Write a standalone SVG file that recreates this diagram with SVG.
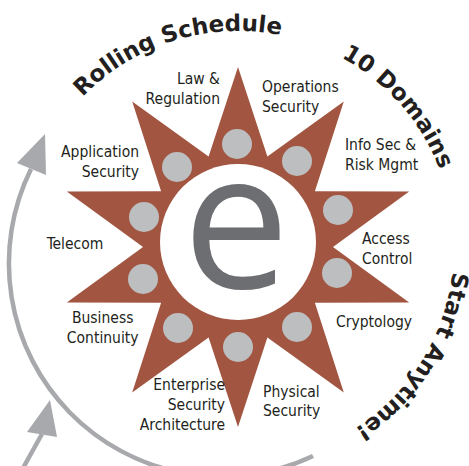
<svg xmlns="http://www.w3.org/2000/svg" width="469" height="466" viewBox="0 0 469 466">
<defs>
<style>
.lbl{font-family:"DejaVu Sans Condensed","DejaVu Sans",sans-serif;font-stretch:condensed;font-size:15.5px;fill:#231f20}
.end{text-anchor:end}
.mid{text-anchor:middle}
.dot{fill:#bcbec0}
.ttl{font-family:"DejaVu Sans",Verdana,sans-serif;font-weight:bold;font-size:23px;fill:#231f20;text-anchor:middle}
.arc{fill:none;stroke:#a7a9ac;stroke-width:4.5}
.head{fill:#a7a9ac}
</style>
<path id="ring" d="M 22,247 A 216,216 0 1,1 454,247 A 216,216 0 1,1 22,247"/>
</defs>
<rect width="469" height="466" fill="#ffffff"/>
<g id="connectors">
<path class="arc" d="M 313,456 A 213,213 0 0,1 31,169"/>
<polygon class="head" points="45,134 17,163 46,175"/>
<path class="arc" d="M 22,470 Q 33,450 42,434"/>
<polygon class="head" points="50,400 27,432 57,437"/>
</g>
<g id="hub">
<polygon fill="#a25641" points="238,67 267.4,156.6 343.8,101.4 314.9,191.2 409.2,191.4 333,247 409.2,302.6 314.9,302.8 343.8,392.6 267.4,337.4 238,427 208.6,337.4 132.2,392.6 161.1,302.8 66.8,302.6 143,247 66.8,191.4 161.1,191.2 132.2,101.4 208.6,156.6"/>
<circle cx="238" cy="242" r="78" fill="#ffffff"/>
<text x="236" y="288" font-family="Open Sans, sans-serif" font-size="190" fill="#6d6e71" text-anchor="middle">e</text>
</g>
<g id="titles">
<text class="ttl"><textPath href="#ring" startOffset="274">Rolling Schedule</textPath></text>
<text class="ttl"><textPath href="#ring" startOffset="523">10 Domains</textPath></text>
<text class="ttl"><textPath href="#ring" startOffset="799">Start Anytime!</textPath></text>
</g>
<g id="law"><circle class="dot" cx="237" cy="144" r="15"/><text class="lbl end"><tspan x="220" y="84">Law &amp;</tspan><tspan x="220" y="104">Regulation</tspan></text></g>
<g id="operations"><circle class="dot" cx="297" cy="161" r="15"/><text class="lbl"><tspan x="262" y="91.5">Operations</tspan><tspan x="262" y="111.5">Security</tspan></text></g>
<g id="infosec"><circle class="dot" cx="338" cy="210" r="15"/><text class="lbl"><tspan x="345" y="150">Info Sec &amp;</tspan><tspan x="345" y="169.5">Risk Mgmt</tspan></text></g>
<g id="access"><circle class="dot" cx="337" cy="273" r="15"/><text class="lbl"><tspan x="362" y="244">Access</tspan><tspan x="362" y="263.5">Control</tspan></text></g>
<g id="cryptology"><circle class="dot" cx="297" cy="327" r="15"/><text class="lbl" x="336" y="326.5">Cryptology</text></g>
<g id="physical"><circle class="dot" cx="238" cy="347" r="15"/><text class="lbl"><tspan x="263" y="396.5">Physical</tspan><tspan x="263" y="416">Security</tspan></text></g>
<g id="enterprise"><circle class="dot" cx="178" cy="328" r="15"/><text class="lbl end"><tspan x="225" y="390">Enterprise</tspan><tspan x="225" y="410">Security</tspan><tspan x="225" y="430">Architecture</tspan></text></g>
<g id="business"><circle class="dot" cx="143" cy="279" r="15"/><text class="lbl mid"><tspan x="102.7" y="323.3">Business</tspan><tspan x="102.7" y="343.3">Continuity</tspan></text></g>
<g id="telecom"><circle class="dot" cx="144" cy="217" r="15"/><text class="lbl mid" x="75" y="249.3">Telecom</text></g>
<g id="application"><circle class="dot" cx="177" cy="167" r="15"/><text class="lbl end"><tspan x="139" y="156.7">Application</tspan><tspan x="139" y="176.5">Security</tspan></text></g>
</svg>
